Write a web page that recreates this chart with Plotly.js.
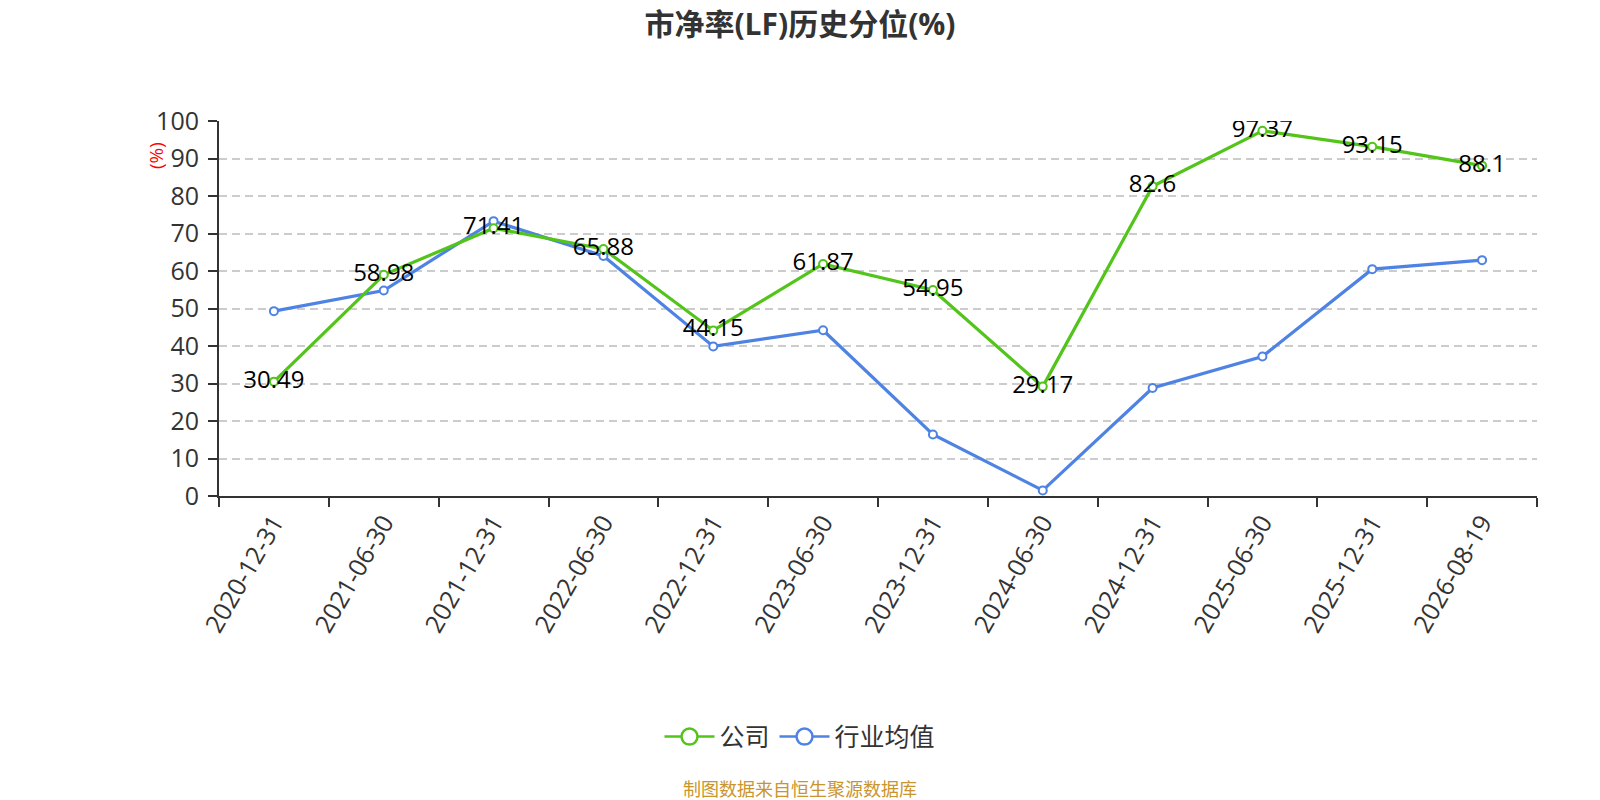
<!DOCTYPE html>
<html>
<head>
<meta charset="utf-8">
<script src="https://cdn.plot.ly/plotly-3.0.1.min.js"></script>
<style>html,body{margin:0;padding:0;background:#fff;}#chart{width:1600px;height:800px;}</style>
</head>
<body>
<div id="chart"></div>
<script>
const categories = ["2020-12-31","2021-06-30","2021-12-31","2022-06-30","2022-12-31","2023-06-30","2023-12-31","2024-06-30","2024-12-31","2025-06-30","2025-12-31","2026-08-19"];
const companyValues = [30.49,58.98,71.41,65.88,44.15,61.87,54.95,29.17,82.6,97.37,93.15,88.1];
const industryValues = [49.3,54.8,73.3,64.0,39.9,44.2,16.4,1.5,28.8,37.2,60.5,62.9];
const yTicks = [0,10,20,30,40,50,60,70,80,90,100];
const seriesNames = ["公司","行业均值"];

const green = "#52c41a";
const blue = "#4e83e4";
const FONT = "Open Sans, Noto Sans CJK SC, sans-serif";

const traces = [
  {
    x: categories, y: industryValues, type: "scatter", mode: "lines+markers",
    name: seriesNames[1], showlegend: false, hoverinfo: "x+y",
    line: {color: blue, width: 3.2},
    marker: {symbol: "circle", size: 8, color: "#ffffff", line: {color: blue, width: 2}}
  },
  {
    x: categories, y: companyValues, type: "scatter", mode: "lines+markers+text",
    name: seriesNames[0], showlegend: false, hoverinfo: "x+y",
    text: companyValues.map(v => String(v)),
    textposition: "middle center",
    textfont: {family: FONT, size: 24, color: "#000000"},
    line: {color: green, width: 3.2},
    marker: {symbol: "circle", size: 8, color: "#ffffff", line: {color: green, width: 2}}
  },
  {
    x: [null], y: [null], type: "scatter", mode: "lines+markers", name: seriesNames[0],
    line: {color: green, width: 2.5},
    marker: {symbol: "circle", size: 22, color: "#ffffff", line: {color: green, width: 2.5}}
  },
  {
    x: [null], y: [null], type: "scatter", mode: "lines+markers", name: seriesNames[1],
    line: {color: blue, width: 2.5},
    marker: {symbol: "circle", size: 22, color: "#ffffff", line: {color: blue, width: 2.5}}
  }
];

const layout = {
  width: 1600, height: 800,
  paper_bgcolor: "#ffffff", plot_bgcolor: "#ffffff",
  font: {family: FONT, color: "#333333"},
  margin: {l: 219, r: 63, t: 121, b: 303.5, pad: 0},
  title: {
    text: "<b>市净率(LF)历史分位(%)</b>",
    x: 0.5, xref: "container", xanchor: "center",
    y: 1 - 24/800, yref: "container", yanchor: "middle",
    font: {family: FONT, size: 30, color: "#333333"}
  },
  xaxis: {
    type: "category",
    categoryorder: "array", categoryarray: categories,
    range: [-0.5, categories.length - 0.5],
    tickson: "boundaries",
    ticks: "outside", ticklen: 9, tickwidth: 2, tickcolor: "#333333",
    showline: true, linecolor: "#333333", linewidth: 2,
    showgrid: false, zeroline: false,
    tickangle: -60,
    tickfont: {family: FONT, size: 25, color: "#333333"},
    fixedrange: true
  },
  yaxis: {
    range: [0, 100],
    tickvals: yTicks, ticktext: yTicks.map(String),
    ticks: "outside", ticklen: 9, tickwidth: 2, tickcolor: "#333333",
    ticklabelstandoff: 4,
    showline: true, linecolor: "#333333", linewidth: 2,
    showgrid: true, gridcolor: "#cccccc", gridwidth: 1.5, griddash: "8px,5px",
    zeroline: false,
    tickfont: {family: FONT, size: 25, color: "#333333"},
    fixedrange: true
  },
  legend: {
    orientation: "h",
    x: (800 - 219) / 1318, xanchor: "center",
    y: (496.5 - 738) / 376, yanchor: "middle",
    itemwidth: 50,
    font: {family: FONT, size: 25, color: "#333333"},
    bgcolor: "rgba(0,0,0,0)"
  },
  annotations: [
    {
      text: "(%)", xref: "paper", yref: "paper",
      x: (156.7 - 219) / 1318, y: (496.5 - 155) / 376,
      xanchor: "center", yanchor: "middle", textangle: -90,
      showarrow: false, font: {family: FONT, size: 19, color: "#ff0000"}
    },
    {
      text: "制图数据来自恒生聚源数据库", xref: "paper", yref: "paper",
      x: (800 - 219) / 1318, y: (496.5 - 790.5) / 376,
      xanchor: "center", yanchor: "middle",
      showarrow: false, font: {family: FONT, size: 18, color: "#c9952e"}
    }
  ],
  hovermode: "closest"
};

Plotly.newPlot("chart", traces, layout, {displayModeBar: false, staticPlot: false});
</script>
</body>
</html>
